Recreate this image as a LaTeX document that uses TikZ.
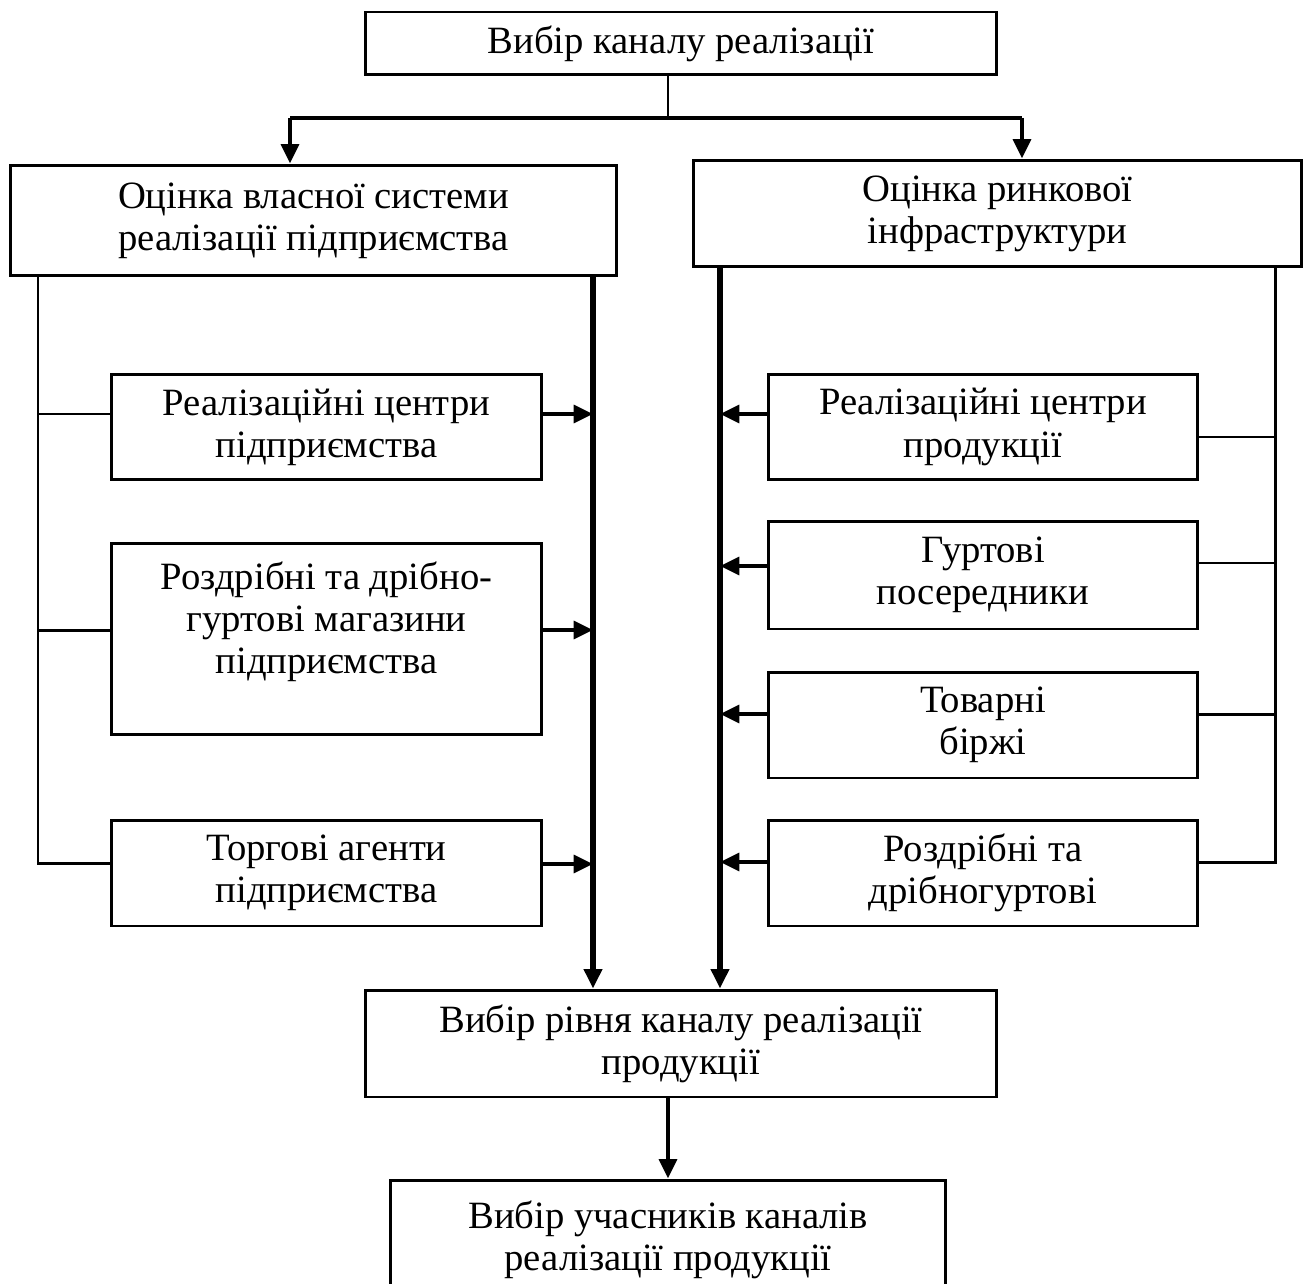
\documentclass[tikz,border=0pt]{standalone}
\usepackage{fontspec}
\setmainfont{Liberation Serif}
\usepackage{tikz}
\usetikzlibrary{arrows.meta,positioning}

\begin{document}
\begin{tikzpicture}[
            x=0.02cm, y=-0.02cm,
            block/.style={rectangle, draw, line width=1.7pt, align=center, inner sep=0pt, font=\fontsize{22}{24}\selectfont},
            thinline/.style={line width=1.4pt},
            feedline/.style={line width=1.7pt},
            busline/.style={line width=3.4pt},
            arrow/.style={-{Triangle[length=11pt,width=10pt]}, line width=2.4pt}
        ]
            \useasboundingbox (0,0) rectangle (1308,1284);

            % top and the two evaluations
            \node[block, minimum width=12.64cm, minimum height=1.26cm] (choice) at (681,43.5) {Вибір каналу реалізації};
            \node[block, minimum width=12.14cm, minimum height=2.22cm] (evalOwn) at (313.5,220.5) {Оцінка власної системи\\реалізації підприємства};
            \node[block, minimum width=12.18cm, minimum height=2.14cm] (evalMarket) at (997.5,213.5) {Оцінка ринкової\\інфраструктури};

            % own system
            \node[block, minimum width=8.62cm, minimum height=2.12cm] (ownCentres) at (326.5,427) {Реалізаційні центри\\підприємства};
            \node[block, minimum width=8.62cm, minimum height=3.84cm] (ownShops) at (326.5,639) {Роздрібні та дрібно-\\гуртові магазини\\підприємства\\\mbox{}};
            \node[block, minimum width=8.62cm, minimum height=2.12cm] (ownAgents) at (326.5,873) {Торгові агенти\\підприємства};

            % market infrastructure
            \node[block, minimum width=8.6cm, minimum height=2.12cm] (mktCentres) at (983,427) {Реалізаційні центри\\продукції};
            \node[block, minimum width=8.6cm, minimum height=2.16cm] (mktWholesale) at (983,575) {Гуртові\\посередники};
            \node[block, minimum width=8.6cm, minimum height=2.12cm] (mktExchange) at (983,725) {Товарні\\біржі};
            \node[block, minimum width=8.6cm, minimum height=2.12cm] (mktRetail) at (983,873) {Роздрібні та\\дрібногуртові};

            % bottom
            \node[block, minimum width=12.64cm, minimum height=2.14cm] (level) at (681,1043.5) {Вибір рівня каналу реалізації\\продукції};
            \node[block, minimum width=11.12cm, minimum height=2.4cm] (members) at (668,1240) {Вибір учасників каналів\\реалізації продукції};

            \coordinate (split) at (668,118);
            \coordinate (splitL) at (290,118);
            \coordinate (splitR) at (1022,118);
            \coordinate (feedOwn) at (38,276);
            \coordinate (busOwn) at (593,276);
            \coordinate (busMarket) at (720,267);
            \coordinate (feedMarket) at (1275,267);

            \draw[thinline] (choice.south -| split) -- (split);
            \draw[line width=2.6pt] (splitL) -- (splitR);
            \draw[arrow] (splitL) -- (splitL |- evalOwn.north);
            \draw[arrow] (splitR) -- (splitR |- evalMarket.north);

            % left side
            \draw[feedline] (feedOwn) -- ([yshift=0.2cm]ownAgents.west -| feedOwn) -- ([yshift=0.2cm]ownAgents.west);
            \draw[feedline] ([yshift=0.26cm]ownCentres.west -| feedOwn) -- ([yshift=0.26cm]ownCentres.west);
            \draw[feedline] ([yshift=0.18cm]ownShops.west -| feedOwn) -- ([yshift=0.18cm]ownShops.west);
            \draw[arrow] ([yshift=0.26cm]ownCentres.east) -- ([yshift=0.26cm]ownCentres.east -| busOwn);
            \draw[arrow] ([yshift=0.18cm]ownShops.east) -- ([yshift=0.18cm]ownShops.east -| busOwn);
            \draw[arrow] ([yshift=0.18cm]ownAgents.east) -- ([yshift=0.18cm]ownAgents.east -| busOwn);
            \draw[arrow, busline] (busOwn) -- (busOwn |- level.north);

            % right side
            \draw[feedline] (feedMarket) -- ([yshift=0.22cm]mktRetail.east -| feedMarket) -- ([yshift=0.22cm]mktRetail.east);
            \draw[feedline] ([yshift=-0.2cm]mktCentres.east) -- ([yshift=-0.2cm]mktCentres.east -| feedMarket);
            \draw[feedline] ([yshift=0.24cm]mktWholesale.east) -- ([yshift=0.24cm]mktWholesale.east -| feedMarket);
            \draw[feedline] ([yshift=0.22cm]mktExchange.east) -- ([yshift=0.22cm]mktExchange.east -| feedMarket);
            \draw[arrow] ([yshift=0.26cm]mktCentres.west) -- ([yshift=0.26cm]mktCentres.west -| busMarket);
            \draw[arrow] ([yshift=0.18cm]mktWholesale.west) -- ([yshift=0.18cm]mktWholesale.west -| busMarket);
            \draw[arrow] ([yshift=0.22cm]mktExchange.west) -- ([yshift=0.22cm]mktExchange.west -| busMarket);
            \draw[arrow] ([yshift=0.22cm]mktRetail.west) -- ([yshift=0.22cm]mktRetail.west -| busMarket);
            \draw[arrow, busline] (busMarket) -- (busMarket |- level.north);

            \draw[arrow] (level.south -| split) -- (members.north -| split);
        \end{tikzpicture}
\end{document}
